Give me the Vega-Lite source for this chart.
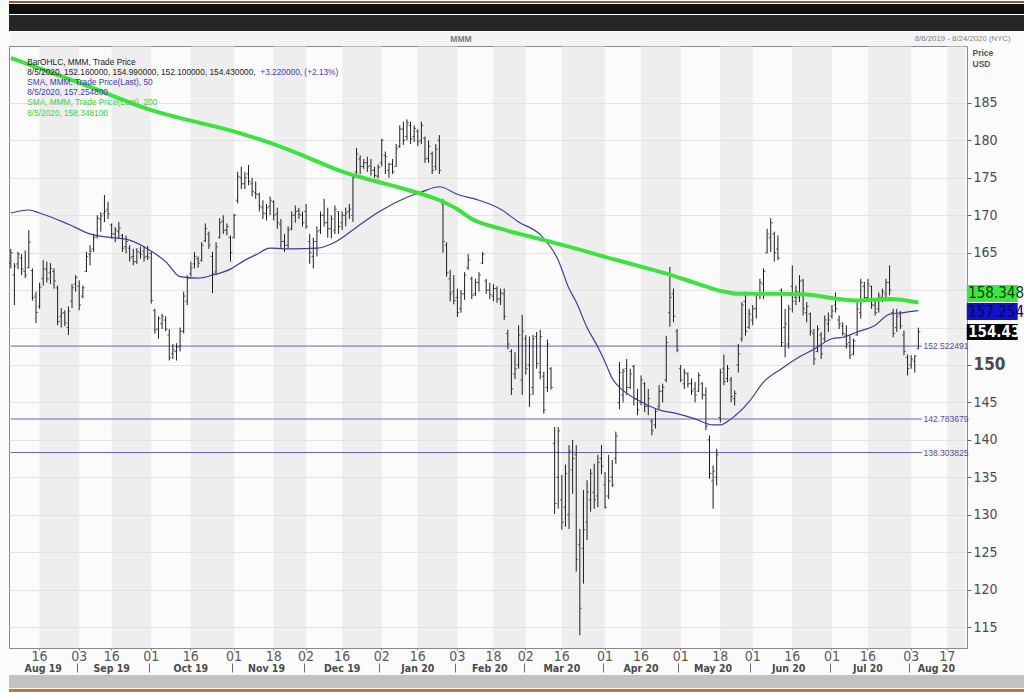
{
  "$schema": "https://vega.github.io/schema/vega-lite/v6.json",
  "background": "#fbfbfb",
  "padding": 0,
  "spacing": 0,
  "config": {
    "font": "Liberation Sans",
    "view": {"stroke": "#8a8a8a"},
    "axis": {"labelFont": "Liberation Sans Narrow, DejaVu Sans Condensed, sans-serif", "labelAngle": 0}
  },
  "datasets": {
    "px": [
      {"d":"2019-08-06","o":163.6,"h":165.5,"l":162.9,"c":165.0},
      {"d":"2019-08-07","o":162.0,"h":163.6,"l":158.0,"c":163.2},
      {"d":"2019-08-08","o":163.5,"h":165.1,"l":162.8,"c":164.8},
      {"d":"2019-08-09","o":164.3,"h":164.8,"l":162.0,"c":162.8},
      {"d":"2019-08-12","o":162.5,"h":165.3,"l":161.6,"c":162.0},
      {"d":"2019-08-13","o":163.0,"h":168.0,"l":162.9,"c":166.4},
      {"d":"2019-08-14","o":162.6,"h":162.9,"l":158.6,"c":159.0},
      {"d":"2019-08-15","o":159.2,"h":159.8,"l":155.6,"c":157.0},
      {"d":"2019-08-16","o":157.8,"h":161.0,"l":157.5,"c":160.4},
      {"d":"2019-08-19","o":161.5,"h":164.0,"l":160.6,"c":162.8},
      {"d":"2019-08-20","o":162.8,"h":163.8,"l":161.0,"c":161.5},
      {"d":"2019-08-21","o":162.3,"h":163.6,"l":160.8,"c":162.9},
      {"d":"2019-08-22","o":162.5,"h":162.9,"l":160.2,"c":161.2},
      {"d":"2019-08-23","o":160.3,"h":160.6,"l":155.3,"c":155.8},
      {"d":"2019-08-26","o":156.5,"h":157.6,"l":155.0,"c":156.9},
      {"d":"2019-08-27","o":157.0,"h":157.3,"l":155.2,"c":155.6},
      {"d":"2019-08-28","o":155.0,"h":157.8,"l":154.0,"c":157.2},
      {"d":"2019-08-29","o":158.5,"h":160.8,"l":157.6,"c":160.3},
      {"d":"2019-08-30","o":160.8,"h":162.0,"l":159.8,"c":161.7},
      {"d":"2019-09-03","o":160.5,"h":161.3,"l":157.3,"c":158.0},
      {"d":"2019-09-04","o":159.2,"h":160.6,"l":158.9,"c":160.3},
      {"d":"2019-09-05","o":162.5,"h":165.1,"l":162.4,"c":164.5},
      {"d":"2019-09-06","o":164.8,"h":166.0,"l":163.3,"c":165.2},
      {"d":"2019-09-09","o":165.5,"h":167.5,"l":165.1,"c":167.0},
      {"d":"2019-09-10","o":167.2,"h":170.0,"l":166.9,"c":169.6},
      {"d":"2019-09-11","o":169.5,"h":170.4,"l":167.8,"c":169.9},
      {"d":"2019-09-12","o":170.2,"h":172.7,"l":169.1,"c":170.5},
      {"d":"2019-09-13","o":170.8,"h":171.8,"l":169.5,"c":170.2},
      {"d":"2019-09-16","o":168.7,"h":168.9,"l":166.9,"c":167.5},
      {"d":"2019-09-17","o":167.5,"h":168.4,"l":166.4,"c":168.0},
      {"d":"2019-09-18","o":167.8,"h":169.1,"l":166.9,"c":168.3},
      {"d":"2019-09-19","o":167.3,"h":167.5,"l":165.1,"c":165.6},
      {"d":"2019-09-20","o":165.8,"h":167.3,"l":164.9,"c":166.5},
      {"d":"2019-09-23","o":165.6,"h":166.0,"l":163.8,"c":164.3},
      {"d":"2019-09-24","o":164.5,"h":165.5,"l":163.3,"c":163.8},
      {"d":"2019-09-25","o":163.8,"h":165.6,"l":163.5,"c":165.2},
      {"d":"2019-09-26","o":165.0,"h":165.8,"l":164.2,"c":164.8},
      {"d":"2019-09-27","o":165.2,"h":165.8,"l":163.8,"c":164.4},
      {"d":"2019-09-30","o":164.5,"h":165.9,"l":164.0,"c":164.4},
      {"d":"2019-10-01","o":164.9,"h":165.1,"l":158.2,"c":158.6},
      {"d":"2019-10-02","o":157.3,"h":157.5,"l":154.2,"c":154.7},
      {"d":"2019-10-03","o":154.8,"h":156.5,"l":153.5,"c":156.2},
      {"d":"2019-10-04","o":155.5,"h":156.8,"l":154.8,"c":156.5},
      {"d":"2019-10-07","o":156.0,"h":156.5,"l":154.5,"c":154.8},
      {"d":"2019-10-08","o":154.0,"h":154.8,"l":150.6,"c":151.0},
      {"d":"2019-10-09","o":151.5,"h":152.8,"l":150.8,"c":152.0},
      {"d":"2019-10-10","o":151.8,"h":152.9,"l":150.6,"c":152.4},
      {"d":"2019-10-11","o":152.5,"h":155.0,"l":151.8,"c":154.5},
      {"d":"2019-10-14","o":154.5,"h":159.8,"l":154.2,"c":159.2},
      {"d":"2019-10-15","o":158.5,"h":162.0,"l":158.0,"c":161.6},
      {"d":"2019-10-16","o":162.2,"h":163.8,"l":161.8,"c":163.0},
      {"d":"2019-10-17","o":163.5,"h":165.1,"l":162.9,"c":164.5},
      {"d":"2019-10-18","o":164.2,"h":164.5,"l":163.0,"c":163.6},
      {"d":"2019-10-21","o":164.0,"h":166.4,"l":163.8,"c":166.0},
      {"d":"2019-10-22","o":166.6,"h":168.9,"l":166.4,"c":168.2},
      {"d":"2019-10-23","o":167.5,"h":167.8,"l":165.5,"c":166.0},
      {"d":"2019-10-24","o":164.5,"h":165.1,"l":159.6,"c":162.2},
      {"d":"2019-10-25","o":162.4,"h":166.4,"l":162.0,"c":165.8},
      {"d":"2019-10-28","o":167.0,"h":169.6,"l":166.9,"c":169.0},
      {"d":"2019-10-29","o":169.2,"h":170.0,"l":167.5,"c":168.0},
      {"d":"2019-10-30","o":168.0,"h":168.9,"l":167.3,"c":168.5},
      {"d":"2019-10-31","o":167.0,"h":167.3,"l":163.8,"c":165.0},
      {"d":"2019-11-01","o":167.0,"h":170.2,"l":166.9,"c":170.0},
      {"d":"2019-11-04","o":172.0,"h":175.8,"l":171.6,"c":175.2},
      {"d":"2019-11-05","o":175.0,"h":176.5,"l":173.5,"c":174.2},
      {"d":"2019-11-06","o":174.2,"h":175.8,"l":173.5,"c":175.0},
      {"d":"2019-11-07","o":175.5,"h":176.7,"l":174.0,"c":174.5},
      {"d":"2019-11-08","o":174.2,"h":175.0,"l":172.5,"c":173.2},
      {"d":"2019-11-11","o":173.0,"h":174.5,"l":172.2,"c":172.8},
      {"d":"2019-11-12","o":172.8,"h":173.0,"l":170.5,"c":171.2},
      {"d":"2019-11-13","o":171.0,"h":172.0,"l":169.5,"c":170.3},
      {"d":"2019-11-14","o":170.2,"h":171.5,"l":169.3,"c":171.0},
      {"d":"2019-11-15","o":171.2,"h":172.5,"l":170.0,"c":172.0},
      {"d":"2019-11-18","o":171.8,"h":172.0,"l":169.3,"c":170.0},
      {"d":"2019-11-19","o":170.2,"h":171.0,"l":168.2,"c":169.0},
      {"d":"2019-11-20","o":168.8,"h":169.5,"l":165.5,"c":166.5},
      {"d":"2019-11-21","o":166.5,"h":167.5,"l":165.1,"c":166.0},
      {"d":"2019-11-22","o":166.0,"h":168.5,"l":165.5,"c":168.0},
      {"d":"2019-11-25","o":168.2,"h":170.5,"l":168.0,"c":170.0},
      {"d":"2019-11-26","o":170.0,"h":171.3,"l":169.0,"c":170.5},
      {"d":"2019-11-27","o":170.6,"h":171.0,"l":169.5,"c":170.1},
      {"d":"2019-11-29","o":170.0,"h":170.5,"l":168.5,"c":169.0},
      {"d":"2019-12-02","o":170.5,"h":171.5,"l":168.2,"c":168.5},
      {"d":"2019-12-03","o":166.5,"h":167.5,"l":163.5,"c":165.0},
      {"d":"2019-12-04","o":164.5,"h":167.0,"l":162.9,"c":166.5},
      {"d":"2019-12-05","o":166.5,"h":168.5,"l":164.5,"c":167.8},
      {"d":"2019-12-06","o":168.0,"h":170.5,"l":167.5,"c":170.0},
      {"d":"2019-12-09","o":170.0,"h":172.2,"l":168.5,"c":169.0},
      {"d":"2019-12-10","o":169.0,"h":171.0,"l":167.0,"c":168.2},
      {"d":"2019-12-11","o":168.2,"h":170.0,"l":166.9,"c":169.5},
      {"d":"2019-12-12","o":168.0,"h":171.3,"l":167.5,"c":170.8},
      {"d":"2019-12-13","o":170.5,"h":170.5,"l":167.5,"c":168.5},
      {"d":"2019-12-16","o":169.0,"h":170.5,"l":168.0,"c":170.0},
      {"d":"2019-12-17","o":170.0,"h":171.0,"l":168.5,"c":170.3},
      {"d":"2019-12-18","o":170.5,"h":171.5,"l":169.5,"c":170.8},
      {"d":"2019-12-19","o":170.0,"h":175.3,"l":169.1,"c":175.0},
      {"d":"2019-12-20","o":175.8,"h":179.0,"l":175.5,"c":178.2},
      {"d":"2019-12-23","o":177.5,"h":178.0,"l":175.5,"c":176.5},
      {"d":"2019-12-24","o":176.5,"h":177.5,"l":176.2,"c":177.0},
      {"d":"2019-12-26","o":177.0,"h":177.8,"l":175.8,"c":176.5},
      {"d":"2019-12-27","o":176.6,"h":177.5,"l":175.3,"c":176.0},
      {"d":"2019-12-30","o":176.0,"h":176.5,"l":175.0,"c":175.3},
      {"d":"2019-12-31","o":175.2,"h":176.8,"l":174.9,"c":176.4},
      {"d":"2020-01-02","o":177.0,"h":180.2,"l":176.5,"c":180.0},
      {"d":"2020-01-03","o":178.0,"h":178.5,"l":175.5,"c":177.8},
      {"d":"2020-01-06","o":176.0,"h":177.0,"l":175.0,"c":176.8},
      {"d":"2020-01-07","o":176.8,"h":177.5,"l":175.5,"c":175.8},
      {"d":"2020-01-08","o":176.5,"h":179.5,"l":176.5,"c":178.9},
      {"d":"2020-01-09","o":179.2,"h":182.0,"l":179.0,"c":181.5},
      {"d":"2020-01-10","o":181.5,"h":182.5,"l":179.4,"c":180.0},
      {"d":"2020-01-13","o":180.5,"h":182.8,"l":180.0,"c":182.3},
      {"d":"2020-01-14","o":182.0,"h":182.5,"l":179.5,"c":180.2},
      {"d":"2020-01-15","o":180.5,"h":182.0,"l":179.8,"c":181.6},
      {"d":"2020-01-16","o":181.2,"h":181.5,"l":179.2,"c":179.8},
      {"d":"2020-01-17","o":180.0,"h":182.5,"l":179.5,"c":182.0},
      {"d":"2020-01-21","o":180.3,"h":180.5,"l":177.0,"c":177.5},
      {"d":"2020-01-22","o":177.6,"h":180.0,"l":177.0,"c":179.2},
      {"d":"2020-01-23","o":178.2,"h":178.5,"l":175.5,"c":176.0},
      {"d":"2020-01-24","o":176.5,"h":179.5,"l":176.0,"c":178.8},
      {"d":"2020-01-27","o":180.0,"h":180.7,"l":175.5,"c":176.0},
      {"d":"2020-01-28","o":171.5,"h":172.2,"l":165.0,"c":166.5},
      {"d":"2020-01-29","o":166.0,"h":166.4,"l":161.8,"c":162.3},
      {"d":"2020-01-30","o":161.5,"h":162.7,"l":158.5,"c":159.5},
      {"d":"2020-01-31","o":159.8,"h":162.0,"l":158.1,"c":158.6},
      {"d":"2020-02-03","o":159.0,"h":160.2,"l":156.4,"c":157.0},
      {"d":"2020-02-04","o":157.5,"h":160.0,"l":157.0,"c":159.5},
      {"d":"2020-02-05","o":159.5,"h":162.4,"l":158.7,"c":162.0},
      {"d":"2020-02-06","o":163.0,"h":164.8,"l":162.7,"c":164.0},
      {"d":"2020-02-07","o":161.5,"h":161.8,"l":158.8,"c":159.3},
      {"d":"2020-02-10","o":159.5,"h":161.5,"l":159.2,"c":161.0},
      {"d":"2020-02-11","o":161.0,"h":162.4,"l":159.8,"c":162.0},
      {"d":"2020-02-12","o":163.6,"h":165.1,"l":163.5,"c":164.8},
      {"d":"2020-02-13","o":161.2,"h":161.5,"l":159.5,"c":160.0},
      {"d":"2020-02-14","o":160.0,"h":161.0,"l":158.8,"c":159.4},
      {"d":"2020-02-18","o":159.2,"h":160.8,"l":158.5,"c":160.2},
      {"d":"2020-02-19","o":160.2,"h":160.5,"l":158.3,"c":158.8},
      {"d":"2020-02-20","o":158.8,"h":160.2,"l":158.0,"c":159.6},
      {"d":"2020-02-21","o":159.5,"h":160.2,"l":156.0,"c":156.5},
      {"d":"2020-02-24","o":154.2,"h":154.7,"l":152.1,"c":152.8},
      {"d":"2020-02-25","o":151.8,"h":152.1,"l":146.0,"c":146.8},
      {"d":"2020-02-26","o":148.8,"h":151.7,"l":148.1,"c":149.5},
      {"d":"2020-02-27","o":150.0,"h":155.3,"l":149.5,"c":154.0},
      {"d":"2020-02-28","o":148.0,"h":156.7,"l":146.0,"c":154.5},
      {"d":"2020-03-02","o":153.5,"h":154.0,"l":148.7,"c":149.5},
      {"d":"2020-03-03","o":150.0,"h":153.8,"l":144.4,"c":146.0},
      {"d":"2020-03-04","o":147.0,"h":154.0,"l":146.0,"c":153.5},
      {"d":"2020-03-05","o":153.8,"h":154.4,"l":149.5,"c":150.2},
      {"d":"2020-03-06","o":149.0,"h":154.7,"l":148.1,"c":153.8},
      {"d":"2020-03-09","o":148.5,"h":149.1,"l":143.5,"c":144.0},
      {"d":"2020-03-10","o":147.0,"h":153.4,"l":146.4,"c":152.8},
      {"d":"2020-03-11","o":149.5,"h":149.7,"l":146.7,"c":147.0},
      {"d":"2020-03-12","o":139.5,"h":141.7,"l":130.1,"c":131.5},
      {"d":"2020-03-13","o":135.0,"h":141.7,"l":130.8,"c":141.2},
      {"d":"2020-03-16","o":132.0,"h":135.3,"l":128.0,"c":129.0},
      {"d":"2020-03-17","o":131.0,"h":136.7,"l":128.4,"c":135.5},
      {"d":"2020-03-18","o":130.0,"h":139.3,"l":128.1,"c":138.5},
      {"d":"2020-03-19","o":136.0,"h":140.0,"l":132.8,"c":137.5},
      {"d":"2020-03-20","o":138.0,"h":139.3,"l":122.4,"c":124.0},
      {"d":"2020-03-23","o":126.0,"h":128.1,"l":113.9,"c":117.5},
      {"d":"2020-03-24","o":125.5,"h":133.3,"l":120.8,"c":128.0},
      {"d":"2020-03-25","o":129.0,"h":134.6,"l":126.6,"c":133.0},
      {"d":"2020-03-26","o":132.0,"h":136.1,"l":130.4,"c":135.5},
      {"d":"2020-03-27","o":133.0,"h":136.8,"l":130.8,"c":132.0},
      {"d":"2020-03-30","o":132.5,"h":138.0,"l":131.0,"c":137.0},
      {"d":"2020-03-31","o":137.5,"h":139.3,"l":135.4,"c":136.5},
      {"d":"2020-04-01","o":134.0,"h":135.7,"l":130.8,"c":131.0},
      {"d":"2020-04-02","o":132.5,"h":138.0,"l":132.1,"c":134.5},
      {"d":"2020-04-03","o":135.0,"h":137.3,"l":133.7,"c":134.0},
      {"d":"2020-04-06","o":137.5,"h":141.1,"l":136.8,"c":140.5},
      {"d":"2020-04-07","o":145.0,"h":150.4,"l":144.1,"c":149.0},
      {"d":"2020-04-08","o":146.0,"h":149.5,"l":145.0,"c":149.2},
      {"d":"2020-04-09","o":149.5,"h":150.8,"l":146.0,"c":147.0},
      {"d":"2020-04-13","o":147.0,"h":149.5,"l":146.8,"c":148.8},
      {"d":"2020-04-14","o":149.8,"h":150.0,"l":144.6,"c":145.5},
      {"d":"2020-04-15","o":145.5,"h":146.8,"l":143.3,"c":144.0},
      {"d":"2020-04-16","o":145.0,"h":148.6,"l":144.6,"c":148.0},
      {"d":"2020-04-17","o":147.5,"h":147.7,"l":143.7,"c":144.5},
      {"d":"2020-04-20","o":144.5,"h":146.8,"l":143.3,"c":145.5},
      {"d":"2020-04-21","o":142.5,"h":142.8,"l":140.6,"c":141.2},
      {"d":"2020-04-22","o":142.0,"h":144.1,"l":141.5,"c":143.8},
      {"d":"2020-04-23","o":144.5,"h":147.3,"l":144.1,"c":146.5},
      {"d":"2020-04-24","o":146.5,"h":147.5,"l":145.0,"c":147.0},
      {"d":"2020-04-27","o":148.0,"h":153.9,"l":147.7,"c":153.0},
      {"d":"2020-04-28","o":157.0,"h":163.1,"l":155.1,"c":159.0},
      {"d":"2020-04-29","o":159.5,"h":160.2,"l":155.7,"c":156.5},
      {"d":"2020-04-30","o":154.5,"h":154.8,"l":151.7,"c":152.0},
      {"d":"2020-05-01","o":149.5,"h":150.0,"l":147.7,"c":148.0},
      {"d":"2020-05-04","o":147.5,"h":149.5,"l":146.8,"c":149.0},
      {"d":"2020-05-05","o":148.8,"h":149.0,"l":147.0,"c":147.5},
      {"d":"2020-05-06","o":147.5,"h":148.2,"l":146.0,"c":146.5},
      {"d":"2020-05-07","o":146.8,"h":147.7,"l":145.0,"c":146.0},
      {"d":"2020-05-08","o":146.5,"h":149.0,"l":146.4,"c":148.6},
      {"d":"2020-05-11","o":147.5,"h":147.7,"l":145.4,"c":146.0},
      {"d":"2020-05-12","o":146.0,"h":147.0,"l":141.3,"c":141.8},
      {"d":"2020-05-13","o":140.0,"h":140.6,"l":134.8,"c":135.5},
      {"d":"2020-05-14","o":134.5,"h":136.6,"l":130.8,"c":135.8},
      {"d":"2020-05-15","o":135.0,"h":138.8,"l":133.9,"c":138.0},
      {"d":"2020-05-18","o":143.0,"h":149.5,"l":142.3,"c":149.0},
      {"d":"2020-05-19","o":149.5,"h":151.4,"l":147.3,"c":147.8},
      {"d":"2020-05-20","o":148.2,"h":150.0,"l":147.7,"c":149.5},
      {"d":"2020-05-21","o":148.0,"h":148.4,"l":145.0,"c":145.8},
      {"d":"2020-05-22","o":145.5,"h":146.6,"l":144.6,"c":146.2},
      {"d":"2020-05-26","o":150.0,"h":152.8,"l":149.0,"c":151.5},
      {"d":"2020-05-27","o":153.5,"h":158.4,"l":153.1,"c":158.0},
      {"d":"2020-05-28","o":158.5,"h":159.8,"l":153.9,"c":154.5},
      {"d":"2020-05-29","o":155.0,"h":157.5,"l":154.8,"c":156.8},
      {"d":"2020-06-01","o":156.0,"h":158.0,"l":155.3,"c":157.5},
      {"d":"2020-06-02","o":157.5,"h":159.7,"l":156.2,"c":159.3},
      {"d":"2020-06-03","o":159.5,"h":161.5,"l":158.8,"c":161.0},
      {"d":"2020-06-04","o":160.8,"h":162.9,"l":158.8,"c":162.5},
      {"d":"2020-06-05","o":165.0,"h":168.2,"l":164.9,"c":167.5},
      {"d":"2020-06-08","o":167.0,"h":169.6,"l":165.1,"c":169.0},
      {"d":"2020-06-09","o":167.5,"h":167.8,"l":163.8,"c":165.0},
      {"d":"2020-06-10","o":165.5,"h":167.3,"l":164.0,"c":164.3},
      {"d":"2020-06-11","o":160.0,"h":160.2,"l":152.4,"c":153.0},
      {"d":"2020-06-12","o":155.0,"h":157.5,"l":151.0,"c":155.5},
      {"d":"2020-06-15","o":152.8,"h":158.0,"l":152.2,"c":157.5},
      {"d":"2020-06-16","o":160.5,"h":163.3,"l":157.0,"c":158.5},
      {"d":"2020-06-17","o":159.0,"h":160.6,"l":158.0,"c":159.8},
      {"d":"2020-06-18","o":159.0,"h":162.0,"l":158.4,"c":161.2},
      {"d":"2020-06-19","o":161.3,"h":161.5,"l":156.6,"c":157.5},
      {"d":"2020-06-22","o":157.0,"h":158.4,"l":155.7,"c":157.8},
      {"d":"2020-06-23","o":156.8,"h":157.0,"l":153.9,"c":154.5},
      {"d":"2020-06-24","o":154.2,"h":154.8,"l":150.0,"c":150.8},
      {"d":"2020-06-25","o":151.8,"h":155.3,"l":151.7,"c":154.8},
      {"d":"2020-06-26","o":154.0,"h":154.4,"l":150.8,"c":151.5},
      {"d":"2020-06-29","o":153.5,"h":156.6,"l":153.1,"c":156.0},
      {"d":"2020-06-30","o":155.5,"h":157.0,"l":154.4,"c":156.0},
      {"d":"2020-07-01","o":156.5,"h":158.0,"l":156.2,"c":157.2},
      {"d":"2020-07-02","o":158.0,"h":159.7,"l":157.0,"c":157.5},
      {"d":"2020-07-06","o":156.0,"h":156.6,"l":154.8,"c":155.5},
      {"d":"2020-07-07","o":155.2,"h":155.7,"l":153.9,"c":154.2},
      {"d":"2020-07-08","o":154.0,"h":155.3,"l":152.2,"c":152.8},
      {"d":"2020-07-09","o":153.0,"h":153.9,"l":150.8,"c":151.3},
      {"d":"2020-07-10","o":151.5,"h":153.5,"l":151.3,"c":153.2},
      {"d":"2020-07-13","o":154.0,"h":158.4,"l":153.9,"c":157.5},
      {"d":"2020-07-14","o":157.0,"h":161.5,"l":156.2,"c":161.0},
      {"d":"2020-07-15","o":160.5,"h":161.1,"l":158.4,"c":159.0},
      {"d":"2020-07-16","o":159.0,"h":161.5,"l":158.8,"c":160.8},
      {"d":"2020-07-17","o":160.5,"h":160.6,"l":157.5,"c":158.0},
      {"d":"2020-07-20","o":158.0,"h":158.8,"l":156.6,"c":157.0},
      {"d":"2020-07-21","o":157.5,"h":159.7,"l":157.0,"c":159.2},
      {"d":"2020-07-22","o":159.0,"h":160.2,"l":158.4,"c":159.8},
      {"d":"2020-07-23","o":159.5,"h":161.5,"l":158.8,"c":161.0},
      {"d":"2020-07-24","o":161.0,"h":163.3,"l":159.3,"c":160.0},
      {"d":"2020-07-27","o":157.0,"h":157.5,"l":153.7,"c":154.2},
      {"d":"2020-07-28","o":155.0,"h":157.5,"l":154.4,"c":156.5},
      {"d":"2020-07-29","o":156.8,"h":157.2,"l":154.8,"c":155.2},
      {"d":"2020-07-30","o":154.0,"h":154.6,"l":151.3,"c":151.8},
      {"d":"2020-07-31","o":151.0,"h":151.4,"l":148.6,"c":149.5},
      {"d":"2020-08-03","o":150.0,"h":151.3,"l":149.5,"c":150.8},
      {"d":"2020-08-04","o":150.5,"h":151.3,"l":149.0,"c":151.21},
      {"d":"2020-08-05","o":152.16,"h":154.99,"l":152.1,"c":154.43}
    ],
    "shade": [
      {"s":"2019-08-16","e":"2019-09-03"},{"s":"2019-09-16","e":"2019-10-01"},{"s":"2019-10-16","e":"2019-11-01"},
      {"s":"2019-11-18","e":"2019-12-02"},{"s":"2019-12-16","e":"2020-01-02"},{"s":"2020-01-16","e":"2020-02-03"},
      {"s":"2020-02-18","e":"2020-03-02"},{"s":"2020-03-16","e":"2020-04-01"},{"s":"2020-04-16","e":"2020-05-01"},
      {"s":"2020-05-18","e":"2020-06-01"},{"s":"2020-06-16","e":"2020-07-01"},{"s":"2020-07-16","e":"2020-08-03"},
      {"s":"2020-08-17","e":"2020-08-24"}
    ],
    "sma50": [
      {"d":"2019-08-06","v":170.3},{"d":"2019-08-13","v":170.7},{"d":"2019-08-16","v":170.3},{"d":"2019-08-28","v":168.8},
      {"d":"2019-09-06","v":167.5},{"d":"2019-09-16","v":167.0},{"d":"2019-09-20","v":166.8},{"d":"2019-09-30","v":165.5},
      {"d":"2019-10-07","v":163.8},{"d":"2019-10-11","v":161.8},{"d":"2019-10-18","v":161.6},{"d":"2019-10-24","v":162.0},
      {"d":"2019-10-31","v":162.8},{"d":"2019-11-06","v":164.0},{"d":"2019-11-11","v":164.7},{"d":"2019-11-15","v":165.6},
      {"d":"2019-11-25","v":165.5},{"d":"2019-12-05","v":165.6},{"d":"2019-12-12","v":166.4},{"d":"2019-12-20","v":168.4},
      {"d":"2019-12-31","v":170.4},{"d":"2020-01-13","v":172.4},{"d":"2020-01-17","v":173.1},{"d":"2020-01-27","v":173.8},
      {"d":"2020-02-03","v":172.8},{"d":"2020-02-11","v":172.0},{"d":"2020-02-20","v":170.8},{"d":"2020-02-27","v":169.1},
      {"d":"2020-03-06","v":167.4},{"d":"2020-03-13","v":164.0},{"d":"2020-03-18","v":160.2},{"d":"2020-03-20","v":158.4},
      {"d":"2020-03-25","v":155.0},{"d":"2020-03-30","v":152.4},{"d":"2020-04-01","v":150.4},{"d":"2020-04-03","v":148.2},
      {"d":"2020-04-08","v":146.6},{"d":"2020-04-16","v":145.1},{"d":"2020-04-23","v":144.0},{"d":"2020-04-30","v":143.5},
      {"d":"2020-05-07","v":142.8},{"d":"2020-05-14","v":142.0},{"d":"2020-05-18","v":142.0},{"d":"2020-05-21","v":142.8},
      {"d":"2020-05-29","v":145.1},{"d":"2020-06-04","v":147.7},{"d":"2020-06-11","v":149.5},{"d":"2020-06-18","v":151.1},
      {"d":"2020-06-24","v":152.1},{"d":"2020-07-01","v":153.5},{"d":"2020-07-07","v":153.7},{"d":"2020-07-13","v":154.4},
      {"d":"2020-07-20","v":155.3},{"d":"2020-07-24","v":156.8},{"d":"2020-07-30","v":157.0},{"d":"2020-08-05","v":157.25}
    ],
    "sma200": [
      {"d":"2019-08-06","v":191.0},{"d":"2019-09-04","v":187.5},{"d":"2019-09-30","v":184.2},{"d":"2019-11-05","v":180.9},
      {"d":"2019-11-18","v":179.5},{"d":"2019-12-02","v":177.8},{"d":"2019-12-13","v":176.0},{"d":"2019-12-27","v":174.7},
      {"d":"2020-01-13","v":173.4},{"d":"2020-01-27","v":172.0},{"d":"2020-02-03","v":170.8},{"d":"2020-02-07","v":169.5},
      {"d":"2020-02-20","v":168.2},{"d":"2020-03-06","v":166.8},{"d":"2020-03-23","v":165.4},{"d":"2020-03-30","v":164.7},
      {"d":"2020-04-14","v":163.4},{"d":"2020-04-27","v":162.2},{"d":"2020-05-08","v":160.8},{"d":"2020-05-18","v":159.9},
      {"d":"2020-05-26","v":159.5},{"d":"2020-06-10","v":159.5},{"d":"2020-06-22","v":159.4},{"d":"2020-07-06","v":158.8},
      {"d":"2020-07-13","v":158.6},{"d":"2020-07-24","v":158.8},{"d":"2020-08-05","v":158.35}
    ],
    "levels": [{"v":152.522491},{"v":142.783679},{"v":138.303825}]
  },
  "hconcat": [
    {
      "spacing": 0,
      "vconcat": [
        {
          "width": 1018, "height": 2,
          "view": {"fill": "#8c5a2e", "stroke": null},
          "data": {"values": [{}]},
          "mark": {"type": "rule", "opacity": 0},
          "encoding": {}
        },
        {
          "width": 1018, "height": 10,
          "view": {"fill": "#0e0e0e", "stroke": null},
          "data": {"values": [{}]},
          "mark": {"type": "rule", "opacity": 0},
          "encoding": {}
        },
        {
          "width": 1018, "height": 16,
          "view": {"fill": "#262626", "stroke": null},
          "data": {"values": [{}]},
          "mark": {"type": "rule", "opacity": 0},
          "encoding": {}
        },
        {
          "width": 958,
          "height": 602,
          "resolve": {"axis": {"x": "independent", "y": "independent"}},
          "layer": [
            {
              "data": {"name": "shade"},
              "mark": {"type": "rect", "color": "#e2e2e2", "opacity": 0.5, "clip": true},
              "encoding": {
                "x": {
                  "field": "s", "type": "ordinal",
                  "scale": {
                    "paddingInner": 0, "paddingOuter": 0,
                    "domain": ["2019-08-06","2019-08-07","2019-08-08","2019-08-09","2019-08-12","2019-08-13","2019-08-14","2019-08-15","2019-08-16","2019-08-19","2019-08-20","2019-08-21","2019-08-22","2019-08-23","2019-08-26","2019-08-27","2019-08-28","2019-08-29","2019-08-30",
                      "2019-09-03","2019-09-04","2019-09-05","2019-09-06","2019-09-09","2019-09-10","2019-09-11","2019-09-12","2019-09-13","2019-09-16","2019-09-17","2019-09-18","2019-09-19","2019-09-20","2019-09-23","2019-09-24","2019-09-25","2019-09-26","2019-09-27","2019-09-30",
                      "2019-10-01","2019-10-02","2019-10-03","2019-10-04","2019-10-07","2019-10-08","2019-10-09","2019-10-10","2019-10-11","2019-10-14","2019-10-15","2019-10-16","2019-10-17","2019-10-18","2019-10-21","2019-10-22","2019-10-23","2019-10-24","2019-10-25","2019-10-28","2019-10-29","2019-10-30","2019-10-31",
                      "2019-11-01","2019-11-04","2019-11-05","2019-11-06","2019-11-07","2019-11-08","2019-11-11","2019-11-12","2019-11-13","2019-11-14","2019-11-15","2019-11-18","2019-11-19","2019-11-20","2019-11-21","2019-11-22","2019-11-25","2019-11-26","2019-11-27","2019-11-29",
                      "2019-12-02","2019-12-03","2019-12-04","2019-12-05","2019-12-06","2019-12-09","2019-12-10","2019-12-11","2019-12-12","2019-12-13","2019-12-16","2019-12-17","2019-12-18","2019-12-19","2019-12-20","2019-12-23","2019-12-24","2019-12-26","2019-12-27","2019-12-30","2019-12-31",
                      "2020-01-02","2020-01-03","2020-01-06","2020-01-07","2020-01-08","2020-01-09","2020-01-10","2020-01-13","2020-01-14","2020-01-15","2020-01-16","2020-01-17","2020-01-21","2020-01-22","2020-01-23","2020-01-24","2020-01-27","2020-01-28","2020-01-29","2020-01-30","2020-01-31",
                      "2020-02-03","2020-02-04","2020-02-05","2020-02-06","2020-02-07","2020-02-10","2020-02-11","2020-02-12","2020-02-13","2020-02-14","2020-02-18","2020-02-19","2020-02-20","2020-02-21","2020-02-24","2020-02-25","2020-02-26","2020-02-27","2020-02-28",
                      "2020-03-02","2020-03-03","2020-03-04","2020-03-05","2020-03-06","2020-03-09","2020-03-10","2020-03-11","2020-03-12","2020-03-13","2020-03-16","2020-03-17","2020-03-18","2020-03-19","2020-03-20","2020-03-23","2020-03-24","2020-03-25","2020-03-26","2020-03-27","2020-03-30","2020-03-31",
                      "2020-04-01","2020-04-02","2020-04-03","2020-04-06","2020-04-07","2020-04-08","2020-04-09","2020-04-13","2020-04-14","2020-04-15","2020-04-16","2020-04-17","2020-04-20","2020-04-21","2020-04-22","2020-04-23","2020-04-24","2020-04-27","2020-04-28","2020-04-29","2020-04-30",
                      "2020-05-01","2020-05-04","2020-05-05","2020-05-06","2020-05-07","2020-05-08","2020-05-11","2020-05-12","2020-05-13","2020-05-14","2020-05-15","2020-05-18","2020-05-19","2020-05-20","2020-05-21","2020-05-22","2020-05-26","2020-05-27","2020-05-28","2020-05-29",
                      "2020-06-01","2020-06-02","2020-06-03","2020-06-04","2020-06-05","2020-06-08","2020-06-09","2020-06-10","2020-06-11","2020-06-12","2020-06-15","2020-06-16","2020-06-17","2020-06-18","2020-06-19","2020-06-22","2020-06-23","2020-06-24","2020-06-25","2020-06-26","2020-06-29","2020-06-30",
                      "2020-07-01","2020-07-02","2020-07-06","2020-07-07","2020-07-08","2020-07-09","2020-07-10","2020-07-13","2020-07-14","2020-07-15","2020-07-16","2020-07-17","2020-07-20","2020-07-21","2020-07-22","2020-07-23","2020-07-24","2020-07-27","2020-07-28","2020-07-29","2020-07-30","2020-07-31",
                      "2020-08-03","2020-08-04","2020-08-05","2020-08-06","2020-08-07","2020-08-10","2020-08-11","2020-08-12","2020-08-13","2020-08-14","2020-08-17","2020-08-18","2020-08-19","2020-08-20","2020-08-21","2020-08-24"]
                  },
                  "axis": {
                    "orient": "bottom", "title": null, "grid": false, "domain": false,
                    "values": ["2019-08-16","2019-09-03","2019-09-16","2019-10-01","2019-10-16","2019-11-01","2019-11-18","2019-12-02","2019-12-16","2020-01-02","2020-01-16","2020-02-03","2020-02-18","2020-03-02","2020-03-16","2020-04-01","2020-04-16","2020-05-01","2020-05-18","2020-06-01","2020-06-16","2020-07-01","2020-07-16","2020-08-03","2020-08-17"],
                    "labelExpr": "slice(datum.value, 8)",
                    "labelFontSize": 14, "labelColor": "#5a5a5a", "labelPadding": -1, "labelOverlap": false,
                    "tickSize": 2, "tickColor": "#888888"
                  }
                },
                "x2": {"field": "e"}
              }
            },
            {
              "data": {"values": [{}]},
              "mark": {"type": "rect", "color": "#f4f4f4"},
              "encoding": {
                "x": {"datum": "2019-08-06", "type": "ordinal", "axis": null},
                "x2": {"datum": "2020-08-24"},
                "y": {"datum": 194.47, "type": "quantitative", "axis": null},
                "y2": {"datum": 192.6}
              }
            },
            {
              "data": {"name": "levels"},
              "mark": {"type": "rule", "color": "#6464aa", "strokeWidth": 1},
              "encoding": {
                "x": {"datum": "2019-08-06", "type": "ordinal", "axis": null},
                "x2": {"datum": "2020-08-06"},
                "y": {
                  "field": "v", "type": "quantitative",
                  "scale": {"domain": [112.2, 192.6], "nice": false, "zero": false},
                  "axis": {
                    "orient": "right", "grid": true, "gridColor": "#e3e3e3", "domain": false,
                    "values": [115, 120, 125, 130, 135, 140, 145, 150, 155, 160, 165, 170, 175, 180, 185],
                    "labelExpr": "datum.value === 155 || datum.value === 160 ? '' : datum.label",
                    "tickSize": 4, "tickColor": "#666666", "labelPadding": 2, "labelColor": "#4a4a4a",
                    "labelFontSize": {"condition": {"test": "datum.value === 150", "value": 17}, "value": 14},
                    "labelFontWeight": {"condition": {"test": "datum.value === 150", "value": "bold"}, "value": "normal"},
                    "title": ["Price", "USD"], "titleAngle": 0, "titleAlign": "left", "titleBaseline": "top",
                    "titleX": 5, "titleY": 2, "titleFontSize": 8.5, "titleFontWeight": "bold", "titleColor": "#555555", "titleLineHeight": 11
                  }
                }
              }
            },
            {
              "data": {"name": "levels"},
              "mark": {"type": "text", "align": "left", "baseline": "middle", "dx": 1.5, "fontSize": 8.5, "color": "#4f4f8f"},
              "encoding": {
                "x": {"datum": "2020-08-06", "type": "ordinal", "axis": null},
                "y": {"field": "v", "type": "quantitative", "axis": null},
                "text": {"field": "v", "type": "quantitative", "format": ".6f"}
              }
            },
            {
              "data": {"name": "px"},
              "mark": {"type": "rule", "color": "#1e1e1e", "strokeWidth": 1},
              "encoding": {
                "x": {
                  "field": "d", "type": "ordinal",
                  "axis": {
                    "orient": "bottom", "offset": 14, "title": null, "grid": false, "domain": false, "ticks": false,
                    "values": ["2019-08-19","2019-09-16","2019-10-16","2019-11-14","2019-12-16","2020-01-16","2020-02-14","2020-03-16","2020-04-16","2020-05-14","2020-06-15","2020-07-16","2020-08-12"],
                    "labelExpr": "['Jan','Feb','Mar','Apr','May','Jun','Jul','Aug','Sep','Oct','Nov','Dec'][toNumber(slice(datum.value, 5, 7)) - 1] + ' ' + slice(datum.value, 2, 4)",
                    "labelFontSize": 10.5, "labelFontWeight": "bold", "labelColor": "#4a4a4a", "labelPadding": 1, "labelOverlap": false
                  }
                },
                "y": {"field": "l", "type": "quantitative", "axis": null},
                "y2": {"field": "h"}
              }
            },
            {
              "data": {"name": "px"},
              "mark": {"type": "tick", "color": "#1e1e1e", "size": 1.6, "thickness": 1, "xOffset": -1.1},
              "encoding": {
                "x": {
                  "field": "d", "type": "ordinal",
                  "axis": {
                    "orient": "bottom", "offset": 15, "title": null, "grid": false, "domain": false, "labels": false,
                    "bandPosition": 0, "tickSize": 9, "tickColor": "#6a6a6a",
                    "values": ["2019-09-03","2019-10-01","2019-11-01","2019-12-02","2020-01-02","2020-02-03","2020-03-02","2020-04-01","2020-05-01","2020-06-01","2020-07-01","2020-08-03"]
                  }
                },
                "y": {"field": "o", "type": "quantitative", "axis": null}
              }
            },
            {
              "data": {"name": "px"},
              "mark": {"type": "tick", "color": "#1e1e1e", "size": 1.6, "thickness": 1, "xOffset": 1.1},
              "encoding": {
                "x": {"field": "d", "type": "ordinal", "axis": null},
                "y": {"field": "c", "type": "quantitative", "axis": null}
              }
            },
            {
              "data": {"name": "sma50"},
              "mark": {"type": "line", "color": "#3d3d9e", "strokeWidth": 1.2, "interpolate": "monotone"},
              "encoding": {
                "x": {"field": "d", "type": "ordinal", "axis": null},
                "y": {"field": "v", "type": "quantitative", "axis": null}
              }
            },
            {
              "data": {"name": "sma200"},
              "mark": {"type": "line", "color": "#3ee23e", "strokeWidth": 4, "interpolate": "monotone"},
              "encoding": {
                "x": {"field": "d", "type": "ordinal", "axis": null},
                "y": {
                  "field": "v", "type": "quantitative",
                  "axis": {"orient": "left", "labels": false, "ticks": false, "domain": false, "grid": false, "title": null, "minExtent": 8, "maxExtent": 8}
                }
              }
            },
            {
              "data": {"values": [{}]},
              "mark": {"type": "text", "align": "left", "baseline": "middle", "dx": 2, "fontSize": 8.3, "lineHeight": 10.1, "color": "#222222",
                       "text": ["BarOHLC, MMM, Trade Price", "8/5/2020, 152.160000, 154.990000, 152.100000, 154.430000,"]},
              "encoding": {
                "x": {"datum": "2019-08-12", "type": "ordinal", "axis": null},
                "y": {"datum": 190.33, "type": "quantitative", "axis": null}
              }
            },
            {
              "data": {"values": [{}]},
              "mark": {"type": "text", "align": "left", "baseline": "middle", "dx": 1, "fontSize": 8.3, "color": "#3c3ca8", "text": "+3.220000, (+2.13%)"},
              "encoding": {
                "x": {"datum": "2019-11-12", "type": "ordinal", "axis": null},
                "y": {"datum": 188.98, "type": "quantitative", "axis": null}
              }
            },
            {
              "data": {"values": [{}]},
              "mark": {"type": "text", "align": "left", "baseline": "middle", "dx": 2, "fontSize": 8.3, "lineHeight": 10.1, "color": "#3c3ca8",
                       "text": ["SMA, MMM, Trade Price(Last),  50", "8/5/2020, 157.254800"]},
              "encoding": {
                "x": {"datum": "2019-08-12", "type": "ordinal", "axis": null},
                "y": {"datum": 187.63, "type": "quantitative", "axis": null}
              }
            },
            {
              "data": {"values": [{}]},
              "mark": {"type": "text", "align": "left", "baseline": "middle", "dx": 2, "fontSize": 8.3, "lineHeight": 10.1, "color": "#44d044",
                       "text": ["SMA, MMM, Trade Price(Last),  200", "8/5/2020, 158.348100"]},
              "encoding": {
                "x": {"datum": "2019-08-12", "type": "ordinal", "axis": null},
                "y": {"datum": 184.93, "type": "quantitative", "axis": null}
              }
            },
            {
              "data": {"values": [{}]},
              "mark": {"type": "text", "align": "center", "baseline": "middle", "fontSize": 8.5, "fontWeight": "bold", "color": "#7a7a7a", "text": "MMM"},
              "encoding": {
                "x": {"datum": "2020-02-04", "type": "ordinal", "axis": null},
                "y": {"datum": 193.53, "type": "quantitative", "axis": null}
              }
            },
            {
              "data": {"values": [{}]},
              "mark": {"type": "text", "align": "left", "baseline": "middle", "fontSize": 7.8, "color": "#808080", "text": "8/6/2019 - 8/24/2020 (NYC)"},
              "encoding": {
                "x": {"datum": "2020-08-04", "type": "ordinal", "axis": null},
                "y": {"datum": 193.53, "type": "quantitative", "axis": null}
              }
            },
            {
              "data": {"values": [{}]},
              "mark": {"type": "rect", "color": "#3ee63e", "width": 51, "xOffset": 27},
              "encoding": {
                "x": {"datum": "2020-08-24", "type": "ordinal", "axis": null},
                "y": {"datum": 160.68, "type": "quantitative", "axis": null},
                "y2": {"datum": 158.41}
              }
            },
            {
              "data": {"values": [{}]},
              "mark": {"type": "rect", "color": "#1212c8", "width": 51, "xOffset": 27},
              "encoding": {
                "x": {"datum": "2020-08-24", "type": "ordinal", "axis": null},
                "y": {"datum": 158.28, "type": "quantitative", "axis": null},
                "y2": {"datum": 156.01}
              }
            },
            {
              "data": {"values": [{}]},
              "mark": {"type": "rect", "color": "#000000", "width": 51, "xOffset": 27},
              "encoding": {
                "x": {"datum": "2020-08-24", "type": "ordinal", "axis": null},
                "y": {"datum": 155.47, "type": "quantitative", "axis": null},
                "y2": {"datum": 153.34}
              }
            },
            {
              "data": {"values": [{}]},
              "mark": {"type": "text", "align": "left", "baseline": "middle", "dx": 3, "fontSize": 15, "font": "Liberation Sans Narrow, DejaVu Sans Condensed, sans-serif", "color": "#0a3a0a", "text": "158.348"},
              "encoding": {
                "x": {"datum": "2020-08-24", "type": "ordinal", "axis": null},
                "y": {"datum": 159.55, "type": "quantitative", "axis": null}
              }
            },
            {
              "data": {"values": [{}]},
              "mark": {"type": "text", "align": "left", "baseline": "middle", "dx": 3, "fontSize": 15, "font": "Liberation Sans Narrow, DejaVu Sans Condensed, sans-serif", "color": "#08085a", "text": "157.254"},
              "encoding": {
                "x": {"datum": "2020-08-24", "type": "ordinal", "axis": null},
                "y": {"datum": 157.14, "type": "quantitative", "axis": null}
              }
            },
            {
              "data": {"values": [{}]},
              "mark": {"type": "text", "align": "left", "baseline": "middle", "dx": 3, "fontSize": 15, "fontWeight": "bold", "font": "Liberation Sans Narrow, DejaVu Sans Condensed, sans-serif", "color": "#ffffff", "text": "154.43"},
              "encoding": {
                "x": {"datum": "2020-08-24", "type": "ordinal", "axis": null},
                "y": {"datum": 154.4, "type": "quantitative", "axis": null}
              }
            }
          ]
        },
        {
          "width": 1018, "height": 13,
          "view": {"fill": "#c2c2c2", "stroke": null},
          "data": {"values": [{}]},
          "mark": {"type": "rule", "opacity": 0},
          "encoding": {}
        },
        {
          "width": 1018, "height": 8,
          "view": {"fill": "#b9763d", "stroke": null},
          "data": {"values": [{}]},
          "mark": {"type": "rule", "opacity": 0},
          "encoding": {}
        }
      ]
    },
    {
      "width": 6, "height": 692,
      "view": {"fill": "#b9763d", "stroke": null},
      "data": {"values": [{}]},
      "mark": {"type": "rule", "opacity": 0},
      "encoding": {}
    }
  ]
}
